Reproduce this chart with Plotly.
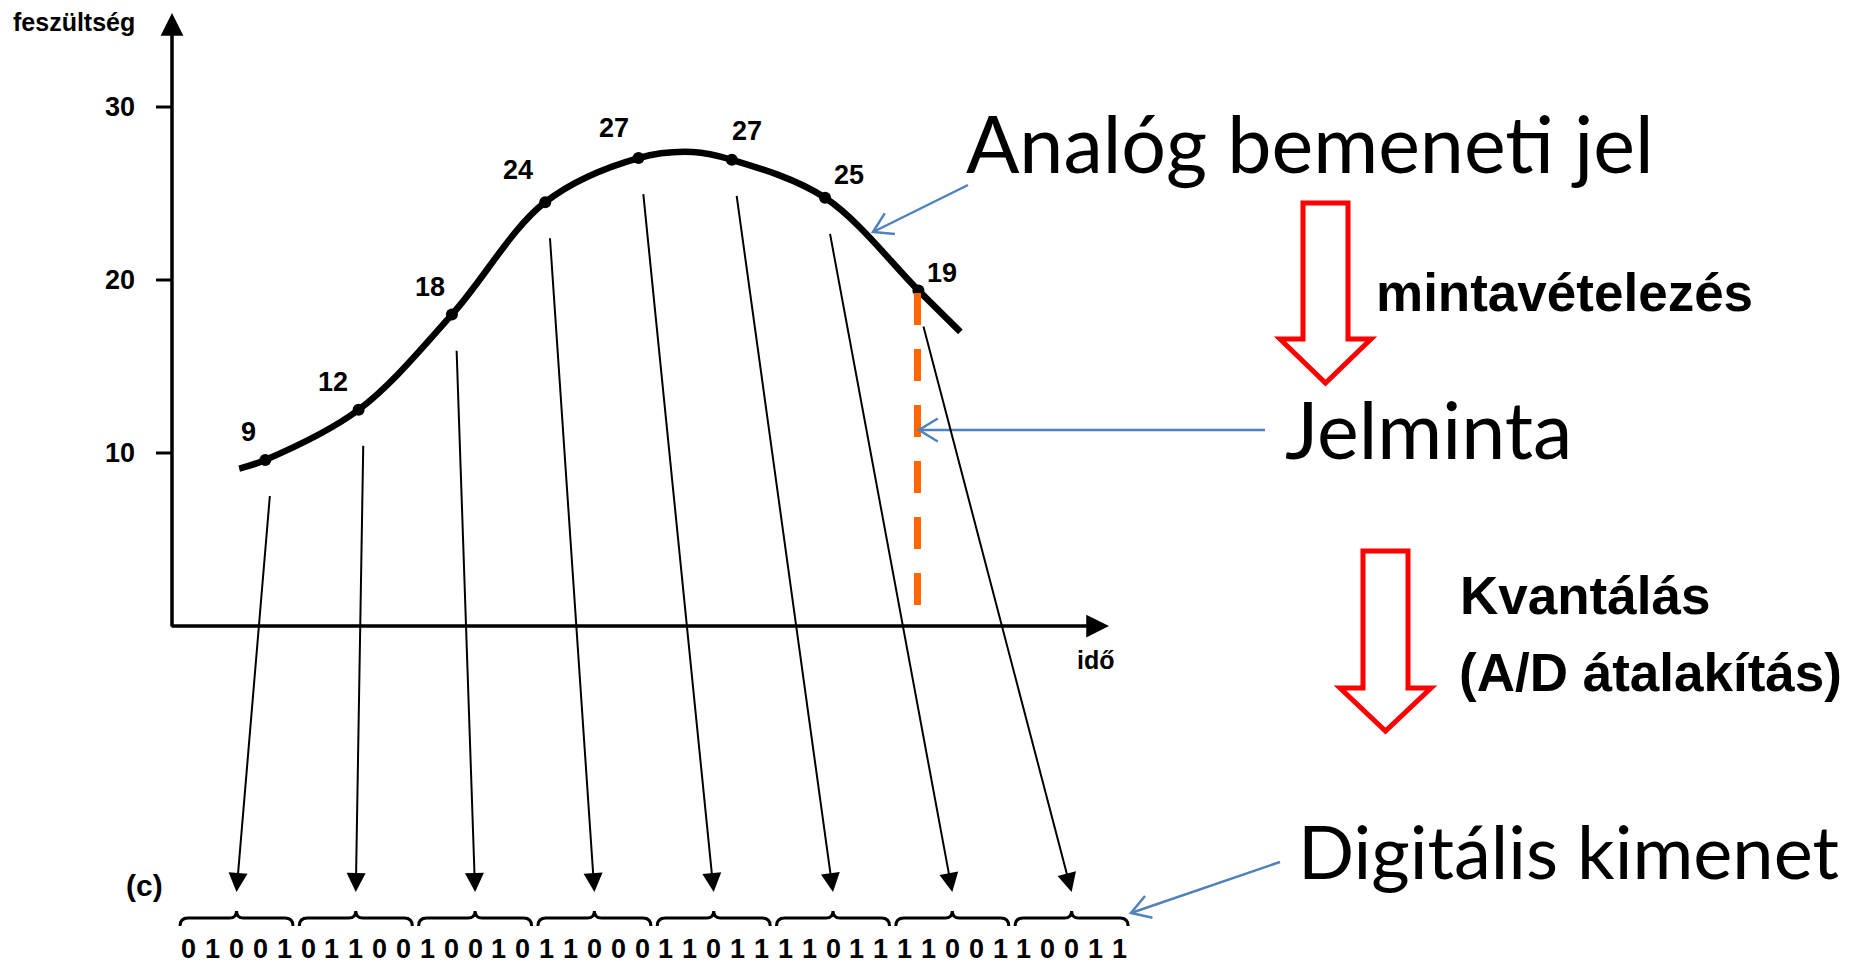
import plotly.graph_objects as go
import math

# ---------------- data ----------------
sample_time = [1, 2, 3, 4, 5, 6, 7, 8]
sample_label = [9, 12, 18, 24, 27, 27, 25, 19]
sample_read = [9.6, 12.5, 18.0, 24.5, 27.05, 26.95, 24.75, 19.4]
curve_time = [0.72, 1, 2, 3, 4, 5, 5.58, 6, 7, 8, 8.45]
curve_volt = [9.1, 9.6, 12.5, 18.0, 24.5, 27.05, 27.4, 26.95, 24.75, 19.4, 17.0]
codes = ["01001", "01100", "10010", "11000", "11011", "11011", "11001", "10011"]
y_ticks = [10, 20, 30]
y_title = "feszültség"
x_title = "idő"
panel_tag = "(c)"
txt_analog = "Analóg bemeneti jel"
txt_sampling = "mintavételezés"
txt_sample = "Jelminta"
txt_quant1 = "Kvantálás"
txt_quant2 = "(A/D átalakítás)"
txt_digital = "Digitális kimenet"

# ---------------- layout geometry ----------------
W, H = 1849, 964
X0PX, XS = 172.0, 93.3      # pixel of t=0, pixels per time unit
Y0PX, YS = 626.0, 17.3      # pixel of v=0, pixels per volt


def tx(px):
    return (px - X0PX) / XS


def vy(py):
    return (Y0PX - py) / YS


ARIAL = "Liberation Sans, Arial, sans-serif"
CALIBRI = "Lato, Open Sans, sans-serif"
BLUE = "#4F81BD"


def afont(size):
    return dict(family=ARIAL, size=size, color="black", weight="bold")


fig = go.Figure()

# analog curve
fig.add_trace(go.Scatter(x=curve_time, y=curve_volt, mode="lines",
                         line=dict(color="black", width=6.5, shape="spline", smoothing=1.0),
                         hoverinfo="skip", showlegend=False))
# sample dots
fig.add_trace(go.Scatter(x=sample_time, y=sample_read, mode="markers",
                         marker=dict(color="black", size=12),
                         hoverinfo="skip", showlegend=False))
# orange dashed sample line (last sample)
fig.add_trace(go.Scatter(x=[sample_time[-1] - 0.01, sample_time[-1] - 0.01],
                         y=[sample_read[-1] - 0.15, vy(606)], mode="lines",
                         line=dict(color="#FF6600", width=7, dash="32px,24px"),
                         hoverinfo="skip", showlegend=False))

annotations = []
shapes = []

# axes with arrow heads
annotations.append(dict(x=0, y=vy(13), ax=0, ay=vy(628), xref="x", yref="y", axref="x", ayref="y",
                        text="", showarrow=True, arrowhead=2, arrowsize=1.3, arrowwidth=3.5,
                        arrowcolor="black"))
annotations.append(dict(x=tx(1109), y=0, ax=tx(170), ay=0, xref="x", yref="y", axref="x", ayref="y",
                        text="", showarrow=True, arrowhead=2, arrowsize=1.3, arrowwidth=3.5,
                        arrowcolor="black"))
# y ticks
for v in y_ticks:
    shapes.append(dict(type="line", xref="x", yref="y", x0=tx(156), x1=0, y0=v, y1=v,
                       line=dict(color="black", width=3)))
    annotations.append(dict(x=tx(137), y=v, xref="x", yref="y", xanchor="right", yanchor="middle",
                            text=str(v), showarrow=False, font=afont(27)))
annotations.append(dict(x=tx(11), y=vy(22), xref="x", yref="y", xanchor="left", yanchor="middle",
                        text=y_title, showarrow=False, font=afont(25)))
annotations.append(dict(x=tx(1096), y=vy(660), xref="x", yref="y", xanchor="center", yanchor="middle",
                        text=x_title, showarrow=False, font=afont(25)))

# sample value labels
label_offsets = [(-17, 28), (-26, 28), (-22, 28), (-27, 32), (-25, 30), (15, 29), (24, 23), (24, 17)]
for t, v, lab, (dx, dy) in zip(sample_time, sample_read, sample_label, label_offsets):
    annotations.append(dict(x=t, y=v, xref="x", yref="y", xshift=dx, yshift=dy,
                            text=str(lab), showarrow=False, xanchor="center", yanchor="middle",
                            font=afont(27)))

# arrows from samples to code words, braces, digits
SLOT0, SLOT_PITCH = 236.5, 119.3
TIP_Y = 892
DIGIT_PITCH = SLOT_PITCH / 5
for i, (t, v, code) in enumerate(zip(sample_time, sample_read, codes)):
    xc = SLOT0 + SLOT_PITCH * i
    annotations.append(dict(x=tx(xc), y=vy(TIP_Y), ax=t + 0.05, ay=v - 2.0,
                            xref="x", yref="y", axref="x", ayref="y",
                            text="", showarrow=True, arrowhead=2, arrowsize=1.9, arrowwidth=2,
                            arrowcolor="black"))
    x0, x1 = xc - 56.5, xc + 56.5
    pts = [
        ("M", x0, 926), ("Q", x0, 918, x0 + 8, 918), ("L", xc - 7, 918),
        ("Q", xc, 918, xc, 911), ("Q", xc, 918, xc + 7, 918), ("L", x1 - 8, 918),
        ("Q", x1, 918, x1, 926),
    ]
    path = ""
    for p in pts:
        cmd = p[0]
        coords = p[1:]
        segs = []
        for k in range(0, len(coords), 2):
            segs.append(f"{tx(coords[k]):.5f},{vy(coords[k + 1]):.5f}")
        path += cmd + " " + " ".join(segs) + " "
    shapes.append(dict(type="path", xref="x", yref="y", path=path.strip(),
                       line=dict(color="black", width=3)))
    for j, ch in enumerate(code):
        dxp = xc + (j - 2) * DIGIT_PITCH
        annotations.append(dict(x=tx(dxp), y=vy(949), xref="x", yref="y", text=ch, showarrow=False,
                                xanchor="center", yanchor="middle", font=afont(27)))
annotations.append(dict(x=tx(144), y=vy(885), xref="x", yref="y", text=panel_tag, showarrow=False,
                        xanchor="center", yanchor="middle", font=afont(30)))


# blue pointer arrows (open heads)
def pointer(start, tip):
    sx, sy = start
    ex, ey = tip
    ang = math.atan2(sy - ey, sx - ex)
    arms = []
    for da in (-0.55, 0.55):
        arms.append((ex + 22 * math.cos(ang + da), ey + 22 * math.sin(ang + da)))
    xs = [sx, ex, None, arms[0][0], ex, arms[1][0]]
    ys = [sy, ey, None, arms[0][1], ey, arms[1][1]]
    fig.add_trace(go.Scatter(x=[tx(a) if a is not None else None for a in xs],
                             y=[vy(b) if b is not None else None for b in ys],
                             mode="lines", line=dict(color=BLUE, width=2.5),
                             hoverinfo="skip", showlegend=False))


pointer((968, 185), (873, 232))
pointer((1265, 430), (919, 430))
pointer((1280, 862), (1131, 913))


# red block arrows
def block_arrow(L, R, T, Hh, HL, HR, tipx, tipy):
    pts = [(L, T), (R, T), (R, Hh), (HR, Hh), (tipx, tipy), (HL, Hh), (L, Hh)]
    path = "M " + " L ".join(f"{tx(a):.5f},{vy(b):.5f}" for a, b in pts) + " Z"
    shapes.append(dict(type="path", xref="x", yref="y", path=path,
                       line=dict(color="#FF0000", width=5)))


block_arrow(1303, 1348, 203, 339, 1280, 1371, 1325.5, 383)
block_arrow(1363, 1408, 551, 688, 1340, 1431, 1385.5, 731)

# right-side texts
annotations.append(dict(x=tx(964), y=vy(142), xref="x", yref="y", xanchor="left", yanchor="middle",
                        text=txt_analog, showarrow=False,
                        font=dict(family=CALIBRI, size=79, color="black")))
annotations.append(dict(x=tx(1283), y=vy(428), xref="x", yref="y", xanchor="left", yanchor="middle",
                        text=txt_sample, showarrow=False,
                        font=dict(family=CALIBRI, size=79, color="black")))
annotations.append(dict(x=tx(1296), y=vy(850), xref="x", yref="y", xanchor="left", yanchor="middle",
                        text=txt_digital, showarrow=False,
                        font=dict(family=CALIBRI, size=74, color="black")))
annotations.append(dict(x=tx(1374), y=vy(292), xref="x", yref="y", xanchor="left", yanchor="middle",
                        text="<b>" + txt_sampling + "</b>", showarrow=False,
                        font=dict(family=ARIAL, size=53, color="black")))
annotations.append(dict(x=tx(1458), y=vy(595), xref="x", yref="y", xanchor="left", yanchor="middle",
                        text="<b>" + txt_quant1 + "</b>", showarrow=False,
                        font=dict(family=ARIAL, size=53, color="black")))
annotations.append(dict(x=tx(1457), y=vy(672), xref="x", yref="y", xanchor="left", yanchor="middle",
                        text="<b>" + txt_quant2 + "</b>", showarrow=False,
                        font=dict(family=ARIAL, size=53, color="black")))

fig.update_layout(
    width=W, height=H,
    margin=dict(l=0, r=0, t=0, b=0),
    paper_bgcolor="white", plot_bgcolor="white",
    xaxis=dict(range=[tx(0), tx(W)], visible=False, fixedrange=True),
    yaxis=dict(range=[vy(H), vy(0)], visible=False, fixedrange=True),
    annotations=annotations,
    shapes=shapes,
    showlegend=False,
)

fig.write_html("out.html", config={"displayModeBar": False, "staticPlot": True},
               post_script="document.body.style.margin='0';document.body.style.overflow='hidden';")
